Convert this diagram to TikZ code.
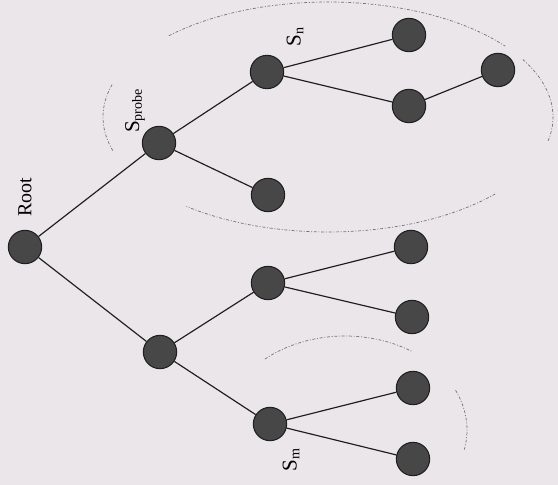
\documentclass[tikz,border=0pt]{standalone}
\usepackage{fontspec}
\setmainfont{Liberation Serif}
\usetikzlibrary{positioning}

\definecolor{paper}{RGB}{234,230,234}
\newcommand{\setlab}[2]{{\fontsize{18}{18}\selectfont #1}\raisebox{-0.5ex}{\fontsize{12}{12}\selectfont #2}}

\tikzset{
  vertex/.style={circle, fill=black!72, draw=black!88, line width=0.9pt, minimum size=1cm, inner sep=0pt},
  edge/.style={draw=black!88, line width=1pt},
  region/.style={draw=black!55, line width=0.6pt, dash pattern=on 2.5pt off 1.5pt on 0.8pt off 1.5pt},
  lab/.style={rotate=90, inner sep=0pt}
}

\begin{document}
\begin{tikzpicture}[x=0.03cm, y=-0.03cm]
    \fill[paper] (0,0) rectangle (558,485);
    \useasboundingbox (0,0) rectangle (558,485);

    % dashed regions round the two subtrees
    \foreach \a/\b in {163/197, 225/322, 330/372, 42/129} {
        \draw[region] plot[domain=\a:\b, samples=40] ({328+225*cos(\x)},{117+115*sin(\x)});
    }
    \foreach \a/\b in {229/303, 335/372} {
        \draw[region] plot[domain=\a:\b, samples=30] ({345+122*cos(\x)},{430+94*sin(\x)});
    }

    \node[vertex] (root) at (25,247) {};
    \node[vertex] (probe) at (159,143) {};
    \node[vertex] (low) at (160,352) {};
    \node[vertex] (sn) at (267,72) {};
    \node[vertex] (pleaf) at (268,195) {};
    \node[vertex] (sna) at (409,35) {};
    \node[vertex] (snb) at (409,106) {};
    \node[vertex] (snc) at (498,70) {};
    \node[vertex] (mid) at (268,283) {};
    \node[vertex] (mida) at (411,247) {};
    \node[vertex] (midb) at (412,317) {};
    \node[vertex] (sm) at (270,424) {};
    \node[vertex] (sma) at (413,388) {};
    \node[vertex] (smb) at (413,459) {};

    \foreach \u/\v in {root/probe, root/low, probe/sn, probe/pleaf, sn/sna, sn/snb, snb/snc,
                       low/mid, low/sm, mid/mida, mid/midb, sm/sma, sm/smb} {
        \draw[edge] (\u) -- (\v);
    }

    \node[lab] (rootlab) at (25,197) {\fontsize{17}{17}\selectfont Root};
    \node[lab] (probelab) at (135,111) {\setlab{S}{probe}};
    \node[lab] (snlab) at (295,37) {\setlab{S}{n}};
    \node[lab] (smlab) at (291,460) {\setlab{S}{m}};
\end{tikzpicture}
\end{document}
